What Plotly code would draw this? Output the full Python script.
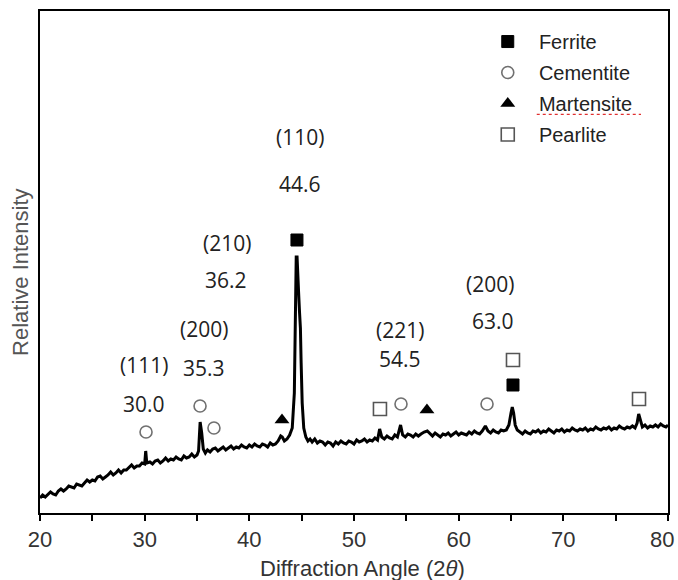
import plotly.graph_objects as go

# ---------------- data ----------------
# diffraction pattern, written segment by segment (angle in degrees 2θ, intensity in a.u.)
angle = (
    [20.00, 20.25, 20.50, 20.75, 21.00, 21.25, 21.50, 21.75, 22.00, 22.25, 22.50, 22.75,
     23.00, 23.25, 23.50, 23.75, 24.00, 24.25, 24.50, 24.75, 25.00, 25.25, 25.50, 25.75,
     26.00, 26.25, 26.50, 26.75, 27.00, 27.25, 27.50, 27.75, 28.00, 28.25, 28.50, 28.75,
     29.00, 29.25, 29.50, 29.75, 30.00]
    + [30.10, 30.20]
    + [30.50, 30.75, 31.00, 31.25, 31.50, 31.75, 32.00, 32.25, 32.50, 32.75, 33.00, 33.25,
       33.50, 33.75, 34.00, 34.25, 34.50, 34.75, 35.00]
    + [35.15, 35.30, 35.45, 35.60, 35.80]
    + [36.00, 36.25, 36.50, 36.75, 37.00, 37.25, 37.50, 37.75, 38.00, 38.25, 38.50, 38.75,
       39.00, 39.25, 39.50, 39.75, 40.00, 40.25, 40.50, 40.75, 41.00, 41.25, 41.50, 41.75,
       42.00, 42.25, 42.50, 42.75]
    + [43.00, 43.15, 43.35, 43.60, 43.85, 44.10, 44.30, 44.40, 44.48, 44.56, 44.62, 44.70,
       44.80, 44.88, 44.95, 45.05, 45.20, 45.40, 45.60, 45.80]
    + [46.00, 46.25, 46.50, 46.75, 47.00, 47.25, 47.50, 47.75, 48.00, 48.25, 48.50, 48.75,
       49.00, 49.25, 49.50, 49.75, 50.00, 50.25, 50.50, 50.75, 51.00, 51.25, 51.50, 51.75,
       52.00, 52.25]
    + [52.45, 52.65]
    + [52.90, 53.15, 53.40, 53.65, 53.90, 54.15]
    + [54.45, 54.65]
    + [54.90, 55.15, 55.40, 55.65, 55.90, 56.15, 56.40]
    + [56.70, 57.00, 57.25]
    + [57.50, 57.75, 58.00, 58.25, 58.50, 58.75, 59.00, 59.25, 59.50, 59.75, 60.00, 60.25,
       60.50, 60.75, 61.00, 61.25, 61.50, 61.75, 62.00, 62.25]
    + [62.55, 62.80]
    + [63.05, 63.30, 63.55, 63.80, 64.05, 64.30, 64.55]
    + [64.80, 65.00, 65.12, 65.25, 65.40, 65.60]
    + [65.85, 66.10, 66.35, 66.60, 66.85, 67.10, 67.35, 67.60, 67.85, 68.10, 68.35, 68.60,
       68.85, 69.10, 69.35, 69.60, 69.85, 70.10, 70.35, 70.60, 70.85, 71.10, 71.35, 71.60,
       71.85, 72.10, 72.35, 72.60, 72.85, 73.10, 73.35, 73.60, 73.85, 74.10, 74.35, 74.60,
       74.85, 75.10, 75.35, 75.60, 75.85, 76.10, 76.35, 76.60, 76.85]
    + [77.05, 77.20, 77.35, 77.55]
    + [77.80, 78.05, 78.30, 78.55, 78.80, 79.05, 79.30, 79.55, 79.80, 80.00]
)

intensity = (
    [15, 18, 16, 19, 21, 19, 18, 22, 24, 22, 24, 27,
     26, 25, 29, 28, 27, 30, 33, 31, 33, 32, 36, 37,
     34, 36, 38, 41, 38, 40, 43, 40, 43, 43, 46, 48,
     45, 47, 47, 50, 49]
    + [62, 50]
    + [51, 49, 52, 53, 50, 52, 55, 52, 54, 53, 56, 54,
       53, 57, 55, 56, 59, 56, 58]
    + [62, 91, 80, 64, 60]
    + [63, 61, 64, 65, 62, 64, 66, 63, 65, 67, 64, 66,
       65, 68, 66, 65, 68, 66, 69, 67, 66, 69, 68, 66,
       70, 68, 69, 72]
    + [77, 76, 72, 74, 78, 85, 120, 200, 256, 256, 230, 222,
       200, 185, 150, 110, 85, 76, 72, 74]
    + [71, 74, 70, 72, 71, 68, 71, 70, 67, 71, 69, 72,
       70, 69, 72, 71, 69, 73, 71, 72, 74, 71, 73, 72,
       75, 73]
    + [84, 76]
    + [74, 77, 75, 74, 78, 76]
    + [88, 78]
    + [76, 79, 78, 76, 79, 77, 79]
    + [81, 82, 79]
    + [77, 80, 78, 76, 79, 78, 80, 77, 79, 81, 78, 80,
       79, 78, 81, 79, 82, 80, 79, 82]
    + [87, 82]
    + [80, 83, 81, 80, 83, 82, 83]
    + [88, 100, 106, 100, 88, 83]
    + [81, 79, 82, 80, 79, 82, 81, 83, 80, 82, 81, 84,
       82, 80, 83, 82, 84, 81, 83, 82, 85, 83, 82, 84,
       83, 85, 82, 84, 83, 86, 84, 83, 85, 84, 86, 83,
       85, 84, 87, 85, 84, 86, 85, 87, 85]
    + [90, 99, 94, 86]
    + [88, 85, 87, 86, 88, 86, 89, 87, 86, 88]
)
assert len(angle) == len(intensity)

ferrite_x = [44.55, 65.19]
ferrite_y = [273, 128]
cementite_x = [30.13, 35.29, 36.62, 54.49, 62.71]
cementite_y = [81, 107, 85, 109, 109]
martensite_x = [43.12, 56.97]
martensite_y = [93, 103]
pearlite_x = [52.48, 65.19, 77.23]
pearlite_y = [104, 153, 114]

peak_planes = ["(110)", "(210)", "(200)", "(111)", "(221)", "(200)"]
peak_angles = ["44.6", "36.2", "35.3", "30.0", "54.5", "63.0"]

x_ticks = [20, 25, 30, 35, 40, 45, 50, 55, 60, 65, 70, 75, 80]
x_ticktext = ["20", "", "30", "", "40", "", "50", "", "60", "", "70", "", ""]
last_tick_label = "80"   # drawn as an annotation so it stays inside the page

# ---------------- styling / layout (positions) ----------------
plane_pos = [(44.84, 376), (37.87, 270), (35.67, 184), (29.94, 148), (54.39, 183), (62.99, 229)]
angle_pos = [(44.84, 329), (37.77, 233), (35.67, 145), (29.94, 109), (54.39, 154), (63.28, 192)]

NARROW = "Liberation Sans Narrow, Arial Narrow, Liberation Sans, Arial, sans-serif"
SANS = "Liberation Sans, Arial, sans-serif"
LBL = "Open Sans, Calibri, sans-serif"
TICKFONT = dict(family=NARROW, size=22, color="#333333")

fig = go.Figure()

fig.add_trace(go.Scatter(x=angle, y=intensity, mode="lines",
                         line=dict(color="black", width=3), showlegend=False,
                         hoverinfo="skip"))

NB = "\u00a0\u00a0"
fig.add_trace(go.Scatter(x=ferrite_x, y=ferrite_y, mode="markers", name=NB + "Ferrite",
                         legendgroup="a",
                         marker=dict(symbol="square", size=12, color="black",
                                     line=dict(color="black", width=1))))
fig.add_trace(go.Scatter(x=cementite_x, y=cementite_y, mode="markers", name=NB + "Cementite",
                         legendgroup="b",
                         marker=dict(symbol="circle-open", size=12, color="#707070",
                                     line=dict(color="#707070", width=1.6))))
fig.add_trace(go.Scatter(x=martensite_x, y=martensite_y, mode="markers", name=NB + "Martensite",
                         legendgroup="c",
                         marker=dict(symbol="triangle-up", size=13, color="black")))
fig.add_trace(go.Scatter(x=pearlite_x, y=pearlite_y, mode="markers", name=NB + "Pearlite",
                         legendgroup="d",
                         marker=dict(symbol="square-open", size=13, color="#555555",
                                     line=dict(color="#555555", width=1.6))))

annotations = []
for t, (x, y) in zip(peak_planes, plane_pos):
    annotations.append(dict(x=x, y=y, xref="x", yref="y", text=t, showarrow=False,
                            font=dict(family=LBL, size=21, color="#222222"),
                            xanchor="center", yanchor="middle"))
for t, (x, y) in zip(peak_angles, angle_pos):
    annotations.append(dict(x=x, y=y, xref="x", yref="y", text=t, showarrow=False,
                            font=dict(family=LBL, size=21, color="#222222"),
                            xanchor="center", yanchor="middle"))

annotations.append(dict(x=1, y=-0.052, xref="paper", yref="paper", text=last_tick_label,
                        showarrow=False, xanchor="right", yanchor="middle", xshift=8,
                        font=TICKFONT))
annotations.append(dict(x=-0.032, y=0.48, xref="paper", yref="paper",
                        text="Relative Intensity", textangle=-90, showarrow=False,
                        font=dict(family=SANS, size=22, color="#555555"),
                        xanchor="center", yanchor="middle"))
annotations.append(dict(x=0.514, y=-0.1096, xref="paper", yref="paper",
                        text="Diffraction Angle (2<i>θ</i>)", showarrow=False,
                        font=dict(family=NARROW, size=22, color="#333333"),
                        xanchor="center", yanchor="middle"))

# red spell-check underline under "Martensite" in the legend
shapes = [dict(type="line", xref="paper", yref="paper", x0=0.791, x1=0.957,
               y0=0.794, y1=0.794, line=dict(color="#e03030", width=1.3, dash="dot"))]

fig.update_layout(
    width=678, height=580,
    margin=dict(l=40, r=10, t=11, b=67, autoexpand=False),
    paper_bgcolor="white", plot_bgcolor="white",
    annotations=annotations, shapes=shapes,
    legend=dict(x=0.713, y=0.978, xanchor="left", yanchor="top",
                font=dict(family=SANS, size=20, color="#222222"),
                bgcolor="rgba(0,0,0,0)", tracegroupgap=2, traceorder="grouped",
                itemsizing="trace"),
    xaxis=dict(range=[20, 80], showgrid=False, zeroline=False, automargin=False,
               showline=True, linecolor="black", linewidth=2, mirror=True,
               ticks="outside", ticklen=6, tickwidth=1.5, tickcolor="black",
               tickmode="array", tickvals=x_ticks, ticktext=x_ticktext,
               tickfont=TICKFONT),
    yaxis=dict(range=[0, 502], showgrid=False, zeroline=False, automargin=False,
               showline=True, linecolor="black", linewidth=2, mirror=True,
               showticklabels=False, ticks=""),
)

fig.write_html("out.html")
